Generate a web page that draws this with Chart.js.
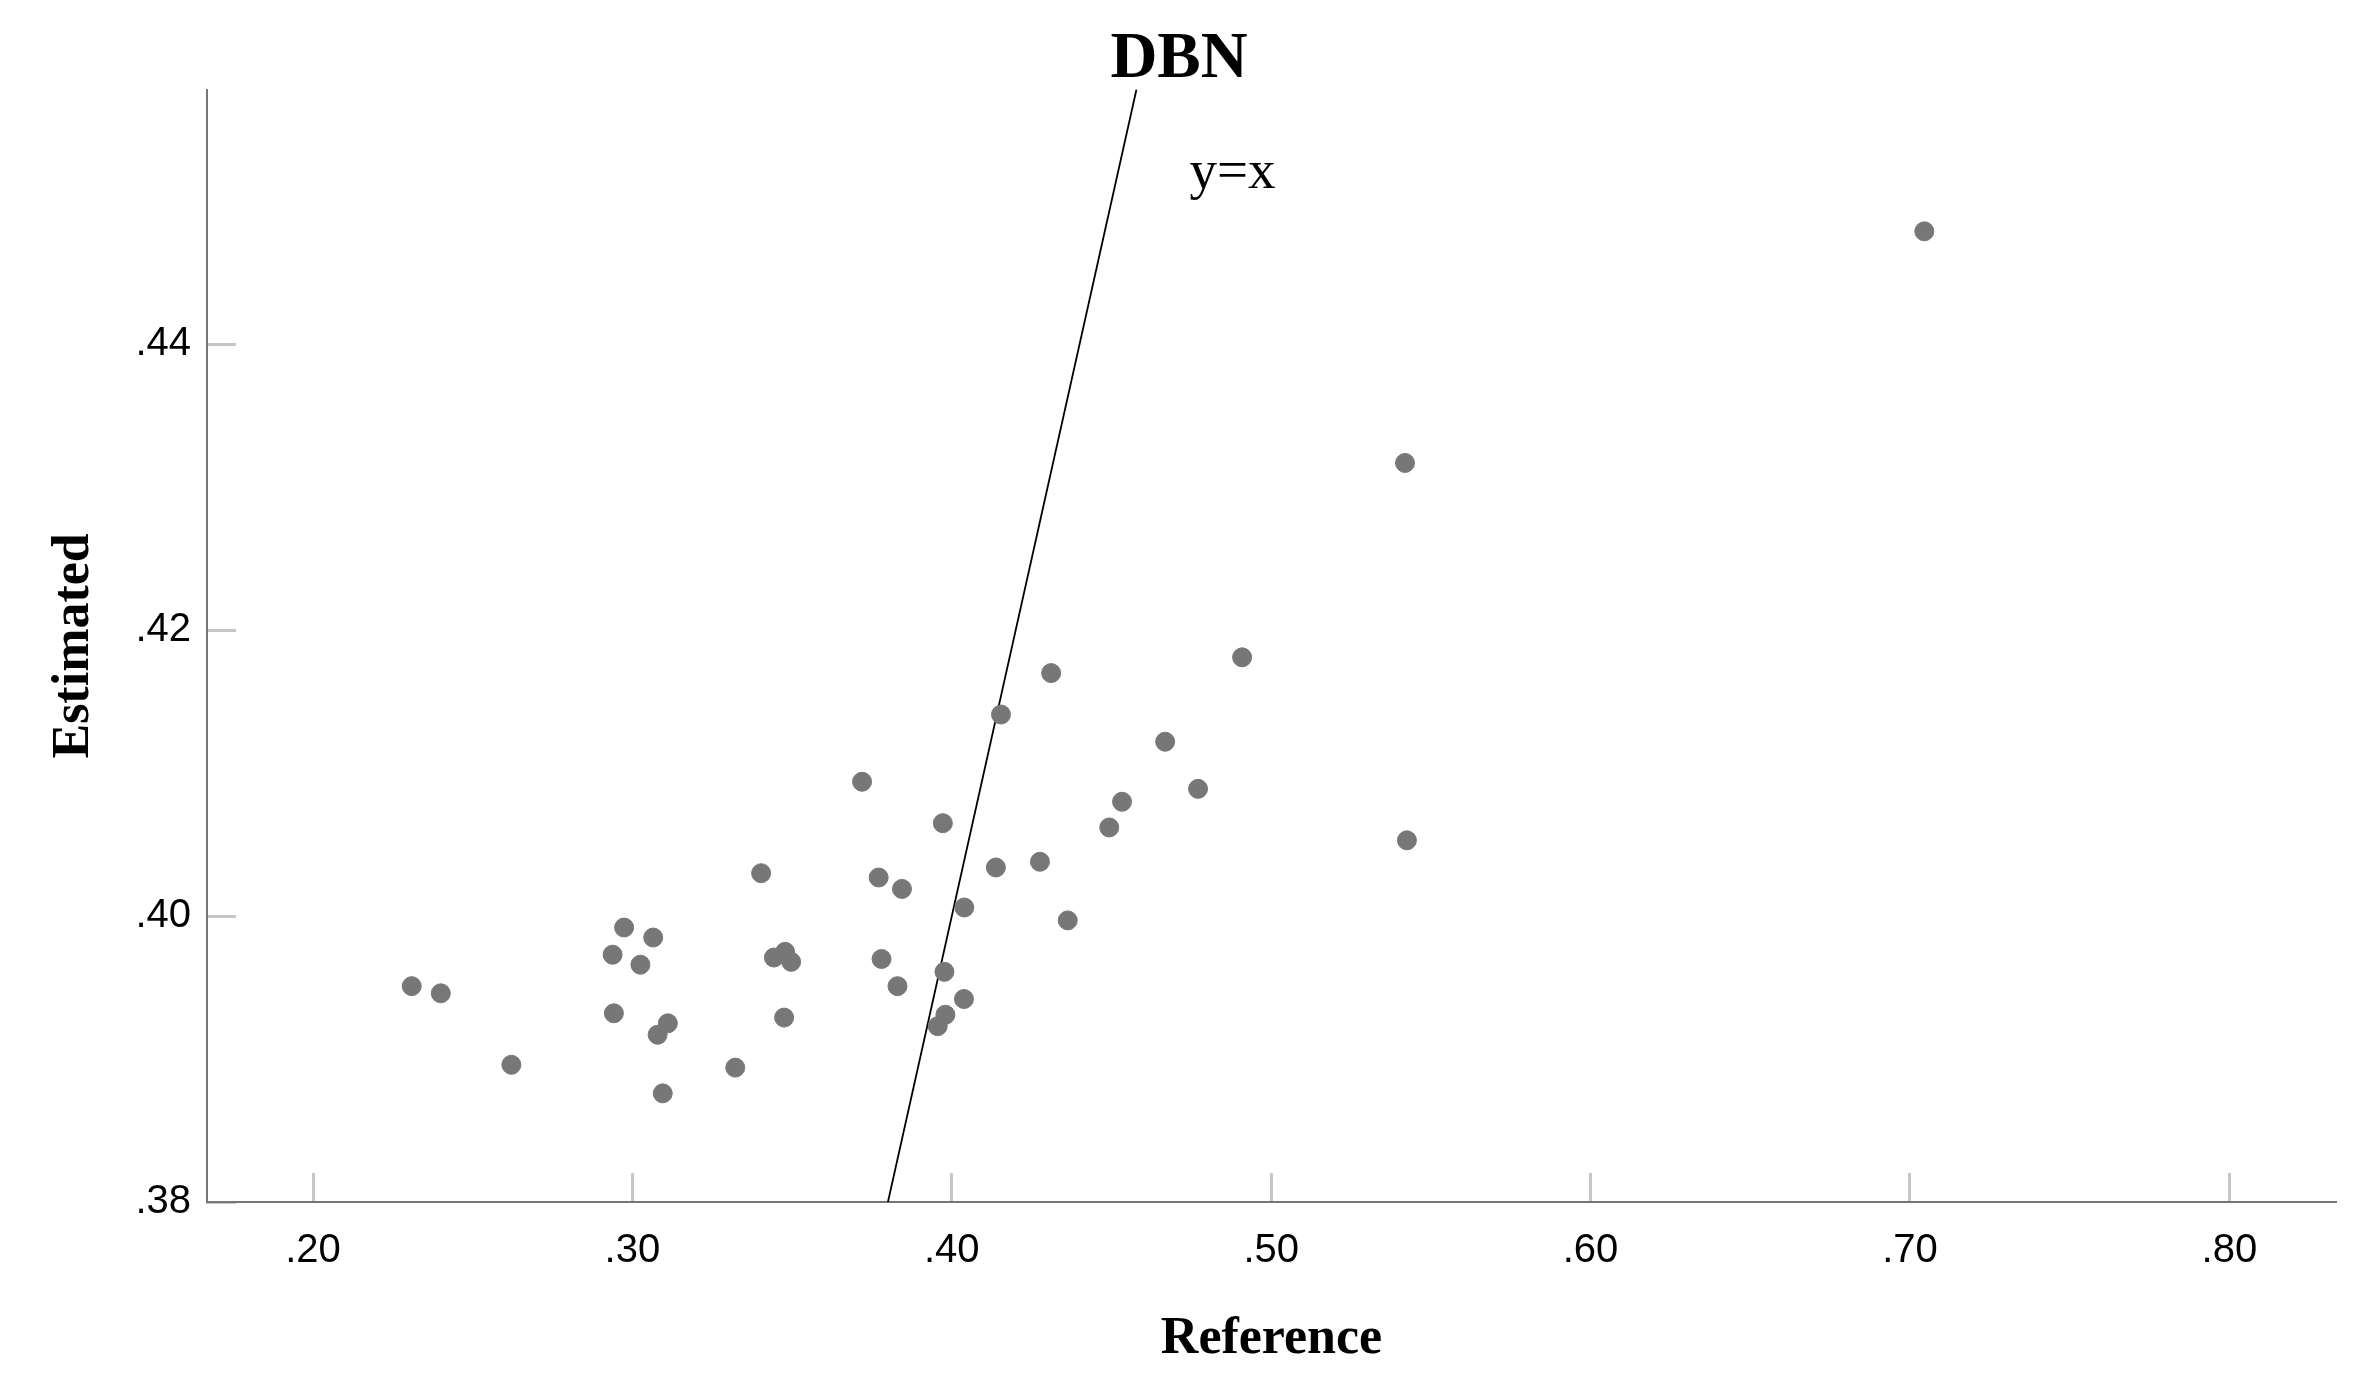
<!DOCTYPE html>
<html>
<head>
<meta charset="utf-8">
<script src="https://cdn.jsdelivr.net/npm/chart.js@4/dist/chart.umd.min.js"></script>
<style>
  html, body { margin: 0; padding: 0; background: #ffffff; }
  #wrap { width: 2358px; height: 1374px; }
</style>
</head>
<body>
<div id="wrap"><canvas id="c" width="2358" height="1374"></canvas></div>
<script>
// ---- data ----
const chartTitle = 'DBN';
const xTitle = 'Reference';
const yTitle = 'Estimated';
const referenceValues = [0.2309, 0.2400, 0.2621, 0.2938, 0.2942, 0.2974, 0.3025, 0.3065, 0.3079, 0.3095,
                         0.3111, 0.3322, 0.3403, 0.3443, 0.3475, 0.3478, 0.3497, 0.3719, 0.3771, 0.3780,
                         0.3830, 0.3844, 0.3956, 0.3972, 0.3977, 0.3980, 0.4038, 0.4039, 0.4138, 0.4154,
                         0.4276, 0.4311, 0.4363, 0.4493, 0.4533, 0.4668, 0.4771, 0.4909, 0.5419, 0.5425,
                         0.7045];
const estimatedValues = [0.3951, 0.3946, 0.3896, 0.3973, 0.3932, 0.3992, 0.3966, 0.3985, 0.3917, 0.3876,
                         0.3925, 0.3894, 0.4030, 0.3971, 0.3929, 0.3975, 0.3968, 0.4094, 0.4027, 0.3970,
                         0.3951, 0.4019, 0.3923, 0.4065, 0.3961, 0.3931, 0.3942, 0.4006, 0.4034, 0.4141,
                         0.4038, 0.4170, 0.3997, 0.4062, 0.4080, 0.4122, 0.4089, 0.4181, 0.4317, 0.4053,
                         0.4479];
const xTicks = [0.20, 0.30, 0.40, 0.50, 0.60, 0.70, 0.80];
const yTicks = [0.38, 0.40, 0.42, 0.44];
const xRange = [0.1668, 0.8334];
const yRange = [0.38, 0.4578];
const identityLine = [0.37, 0.47];          // y = x reference line, drawn between these values
const identityLabel = { text: 'y=x', x: 0.4744, y: 0.4509 };

// ---- chart ----
const points = referenceValues.map((v, i) => ({ x: v, y: estimatedValues[i] }));
const linePts = identityLine.map(v => ({ x: v, y: v }));
const fmt = v => v.toFixed(2).replace(/^0/, '');

const labelPlugin = {
  id: 'identityLabel',
  afterDatasetsDraw(chart) {
    const { ctx, scales } = chart;
    ctx.save();
    ctx.font = '55px "Liberation Serif", "Times New Roman", serif';
    ctx.fillStyle = '#000000';
    ctx.textAlign = 'left';
    ctx.textBaseline = 'alphabetic';
    ctx.fillText(identityLabel.text, scales.x.getPixelForValue(identityLabel.x), scales.y.getPixelForValue(identityLabel.y));
    ctx.restore();
  }
};

new Chart(document.getElementById('c'), {
  type: 'scatter',
  data: {
    datasets: [
      {
        label: 'points',
        data: points,
        pointRadius: 9.5,
        pointHoverRadius: 9.5,
        pointBackgroundColor: '#777777',
        pointBorderColor: '#777777',
        pointBorderWidth: 1,
        showLine: false
      },
      {
        label: 'y=x',
        type: 'line',
        data: linePts,
        borderColor: '#000000',
        borderWidth: 1.8,
        pointRadius: 0,
        fill: false,
        tension: 0
      }
    ]
  },
  options: {
    responsive: false,
    animation: false,
    devicePixelRatio: 1,
    layout: { padding: { left: 22, right: 22, top: 0, bottom: 0 } },
    plugins: {
      legend: { display: false },
      tooltip: { enabled: false },
      title: {
        display: true,
        text: chartTitle,
        color: '#000000',
        font: { family: '"Liberation Serif", "Times New Roman", serif', size: 65, weight: 'bold', lineHeight: 0.92 },
        padding: { top: 30, bottom: 0 }
      }
    },
    scales: {
      x: {
        type: 'linear',
        min: xRange[0],
        max: xRange[1],
        afterBuildTicks: s => { s.ticks = xTicks.map(v => ({ value: v })); },
        afterFit: s => { s.height = 172; },
        grid: { drawOnChartArea: false, drawTicks: true, tickLength: -29, tickColor: '#c6c6c6', tickWidth: 3 },
        border: { display: true, color: '#767676', width: 2 },
        ticks: {
          callback: v => fmt(v),
          color: '#000000',
          padding: 54,
          maxRotation: 0,
          autoSkip: false,
          font: { family: '"Liberation Sans", Arial, sans-serif', size: 40 }
        },
        title: {
          display: true,
          text: xTitle,
          color: '#000000',
          font: { family: '"Liberation Serif", "Times New Roman", serif', size: 52, weight: 'bold', lineHeight: 1.2 },
          padding: { top: 0, bottom: 3 }
        }
      },
      y: {
        type: 'linear',
        min: yRange[0],
        max: yRange[1],
        afterBuildTicks: s => { s.ticks = yTicks.map(v => ({ value: v })); },
        afterFit: s => { s.width = 185; },
        grid: { drawOnChartArea: false, drawTicks: true, tickLength: -29, tickColor: '#c6c6c6', tickWidth: 3 },
        border: { display: true, color: '#767676', width: 2 },
        ticks: {
          callback: v => fmt(v),
          color: '#000000',
          padding: 45,
          autoSkip: false,
          font: { family: '"Liberation Sans", Arial, sans-serif', size: 40 }
        },
        title: {
          display: true,
          text: yTitle,
          color: '#000000',
          font: { family: '"Liberation Serif", "Times New Roman", serif', size: 52, weight: 'bold', lineHeight: 1.2 },
          padding: { top: 21, bottom: 0 }
        }
      }
    }
  },
  plugins: [labelPlugin]
});
</script>
</body>
</html>
